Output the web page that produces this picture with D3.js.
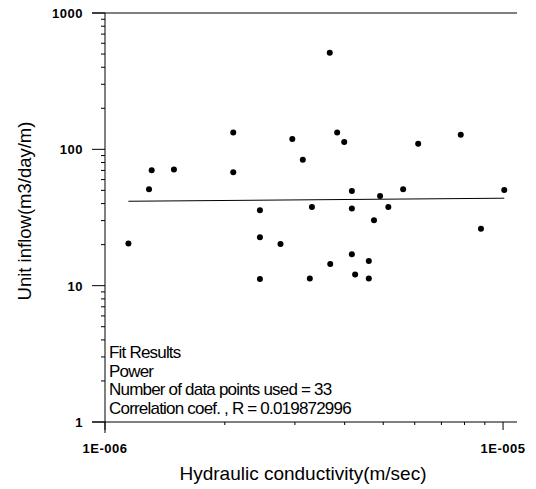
<!DOCTYPE html>
<html>
<head>
<meta charset="utf-8">
<script src="https://cdn.jsdelivr.net/npm/d3@7"></script>
<style>
  body { margin: 0; background: #fff; }
  svg text { font-family: "Liberation Sans", Arial, sans-serif; fill: #000; }
</style>
</head>
<body>
<div id="container"></div>
<script>
// conductivity (m/sec) and unit inflow (m3/day/m)
var conductivity = [1.145e-6, 1.29e-6, 1.31e-6, 1.49e-6, 2.10e-6, 2.10e-6, 2.45e-6, 2.45e-6,
  2.45e-6, 2.76e-6, 2.955e-6, 3.14e-6, 3.31e-6, 3.27e-6, 3.67e-6, 3.68e-6, 3.83e-6, 3.99e-6,
  4.17e-6, 4.17e-6, 4.17e-6, 4.25e-6, 4.60e-6, 4.60e-6, 4.74e-6, 4.91e-6, 5.15e-6, 5.61e-6,
  6.12e-6, 7.83e-6, 8.80e-6, 1.007e-5]
var inflow = [20.4, 50.9, 70.2, 71, 133, 67.8, 35.7, 22.7,
  11.2, 20.2, 119, 84, 37.8, 11.3, 511, 14.4, 133, 113,
  49.5, 36.8, 17, 12.1, 15.2, 11.3, 30.2, 45.5, 37.8, 50.9,
  110, 128, 26.2, 50.3]

// power fit end points
var fitX = [1.145e-6, 1.007e-5]
var fitY = [41.6, 43.8]

var xTicks = [1e-6, 1e-5]
var xTickLabels = ["1E-006", "1E-005"]
var yTicks = [1, 10, 100, 1000]
var fitText = ["Fit Results", "Power", "Number of data points used = 33",
  "Correlation coef. , R = 0.019872996"]

var width = 536, height = 489
// plot box (window.top is reserved, so use a margin object)
var m = { left: 105, right: 517, top: 13, bottom: 422 }

var svg = d3.select("#container").append("svg")
    .attr("width", width)
    .attr("height", height)

var x = d3.scaleLog().domain([1e-6, 1.084e-5]).range([m.left, m.right])
var y = d3.scaleLog().domain([1, 1000]).range([m.bottom, m.top])

// minor ticks 2..9 in each decade
function minors(lo, hi) {
  var out = []
  for (var d = lo; d < hi; d *= 10) {
    for (var k = 2; k <= 9; k++) out.push(d * k)
  }
  return out
}

// y axis
var yAxis = svg.append("g")
yAxis.append("line")
  .attr("x1", m.left).attr("x2", m.left)
  .attr("y1", m.top).attr("y2", m.bottom + 11)
  .attr("stroke", "#000").attr("stroke-width", 1)
yAxis.selectAll(".ymin")
  .data(minors(1, 1000))
  .enter().append("line")
  .attr("x1", m.left - 4).attr("x2", m.left)
  .attr("y1", d => y(d)).attr("y2", d => y(d))
  .attr("stroke", "#000")
yAxis.selectAll(".ymaj")
  .data(yTicks)
  .enter().append("line")
  .attr("x1", m.left - 13).attr("x2", m.left)
  .attr("y1", d => y(d)).attr("y2", d => y(d))
  .attr("stroke", "#000")
yAxis.selectAll("text")
  .data(yTicks)
  .enter().append("text")
  .attr("x", 83)
  .attr("y", d => y(d) + 5)
  .attr("text-anchor", "end")
  .attr("font-size", "13px")
  .attr("font-weight", "bold")
  .attr("letter-spacing", "0.5px")
  .text(d => d)

// top border and bottom axis
svg.append("line")
  .attr("x1", m.left - 13).attr("x2", m.right)
  .attr("y1", m.top).attr("y2", m.top)
  .attr("stroke", "#000")
svg.append("line")
  .attr("x1", m.left - 13).attr("x2", m.right)
  .attr("y1", m.bottom).attr("y2", m.bottom)
  .attr("stroke", "#000")

var xAxis = svg.append("g")
xAxis.selectAll(".xmin")
  .data(minors(1e-6, 1e-5))
  .enter().append("line")
  .attr("x1", d => x(d)).attr("x2", d => x(d))
  .attr("y1", m.bottom).attr("y2", m.bottom + 3)
  .attr("stroke", "#000")
xAxis.selectAll(".xmaj")
  .data(xTicks)
  .enter().append("line")
  .attr("x1", d => x(d)).attr("x2", d => x(d))
  .attr("y1", m.bottom).attr("y2", m.bottom + 8)
  .attr("stroke", "#000")
xAxis.selectAll("text")
  .data(xTicks)
  .enter().append("text")
  .attr("x", d => x(d))
  .attr("y", 453)
  .attr("text-anchor", "middle")
  .attr("font-size", "13px")
  .attr("font-weight", "bold")
  .attr("letter-spacing", "0.5px")
  .text((d, i) => xTickLabels[i])

// axis titles
svg.append("text")
  .attr("x", 303).attr("y", 480)
  .attr("text-anchor", "middle")
  .attr("font-size", "19px")
  .text("Hydraulic conductivity(m/sec)")
svg.append("text")
  .attr("transform", "translate(31,211) rotate(-90)")
  .attr("text-anchor", "middle")
  .attr("font-size", "18.5px")
  .text("Unit inflow(m3/day/m)")

// fit line
svg.append("line")
  .attr("x1", x(fitX[0])).attr("y1", y(fitY[0]))
  .attr("x2", x(fitX[1])).attr("y2", y(fitY[1]))
  .attr("stroke", "#000").attr("stroke-width", 1)

// points
svg.selectAll(".pt")
  .data(conductivity)
  .enter().append("circle")
  .attr("class", "pt")
  .attr("cx", d => x(d))
  .attr("cy", (d, i) => y(inflow[i]))
  .attr("r", 3)
  .attr("fill", "#000")

// fit results text
svg.selectAll(".fit")
  .data(fitText)
  .enter().append("text")
  .attr("x", 109)
  .attr("y", (d, i) => 358 + i * 18.5)
  .attr("font-size", "17px")
  .attr("letter-spacing", "-0.8px")
  .text(d => d)
</script>
</body>
</html>
